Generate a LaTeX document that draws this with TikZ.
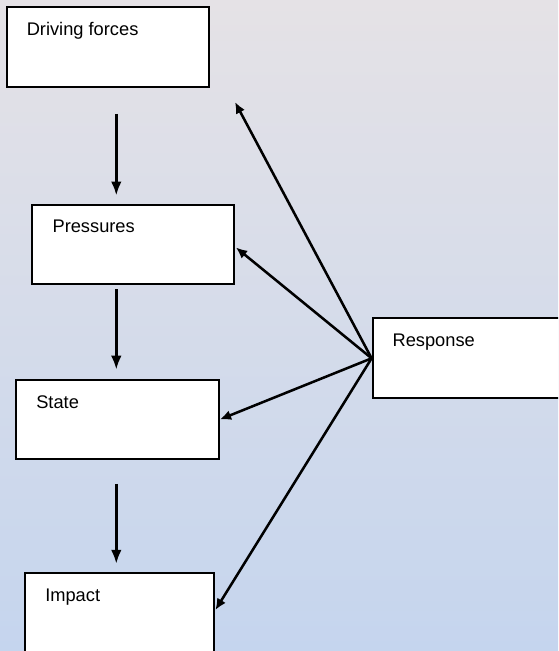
\documentclass[tikz,border=0pt]{standalone}
\usepackage{fontspec}
\setmainfont{Liberation Sans}
\usetikzlibrary{arrows.meta}
\definecolor{bgtop}{RGB}{229,226,230}
\definecolor{bgbot}{RGB}{197,213,238}
\begin{document}
\begin{tikzpicture}[x=0.75pt,y=-0.75pt,
  box/.style={draw=black,fill=white,line width=1.6pt,inner sep=0pt,rectangle},
  lbl/.style={anchor=base west,inner sep=0pt,font=\fontsize{13.7}{16}\selectfont},
  arr/.style={line width=1.9pt,-{Latex[length=8.5pt,width=7.5pt]}},
  varr/.style={line width=2.3pt,-{Latex[length=10.5pt,width=8pt]}}]
\useasboundingbox (0,0) rectangle (558,651);
\begin{scope}
\clip (0,0) rectangle (558,651);
\shade[top color=bgtop,bottom color=bgbot] (0,0) rectangle (558,651);
\node[box,minimum width=151.7pt,minimum height=60pt] (df) at (107.85,46.7) {};
\node[box,minimum width=151.7pt,minimum height=59.5pt] (pr) at (133.15,244.35) {};
\node[box,minimum width=152pt,minimum height=59.3pt] (st) at (117.35,419.5) {};
\node[box,minimum width=142pt,minimum height=60pt] (im) at (119.65,612.7) {};
\node[box,minimum width=170.5pt,minimum height=60pt] (re) at (486.35,358.3) {};
\node[lbl] (tdf) at (26.5,35) {Driving forces};
\node[lbl] (tpr) at (52.3,232.7) {Pressures};
\node[lbl] (tst) at (36,408.3) {State};
\node[lbl] (tim) at (45,601.7) {Impact};
\node[lbl] (tre) at (392.3,346.7) {Response};
\coordinate (ax) at (116.3,0);
\coordinate (top) at (235,102);
\draw[varr,shorten <=19.5pt,shorten >=6pt] (df.south -| ax) -- (pr.north -| ax);
\draw[varr,shorten <=3pt,shorten >=6.9pt] (pr.south -| ax) -- (st.north -| ax);
\draw[varr,shorten <=17.8pt,shorten >=5.8pt] (st.south -| ax) -- (im.north -| ax);
\draw[arr] (re.west) -- (top);
\draw[arr,shorten >=0.5pt] (re.west) -- ([yshift=-2pt]pr.east);
\draw[arr] (re.west) -- (st.east);
\draw[arr] (re.west) -- ([yshift=2pt]im.east);
\end{scope}
\end{tikzpicture}
\end{document}
